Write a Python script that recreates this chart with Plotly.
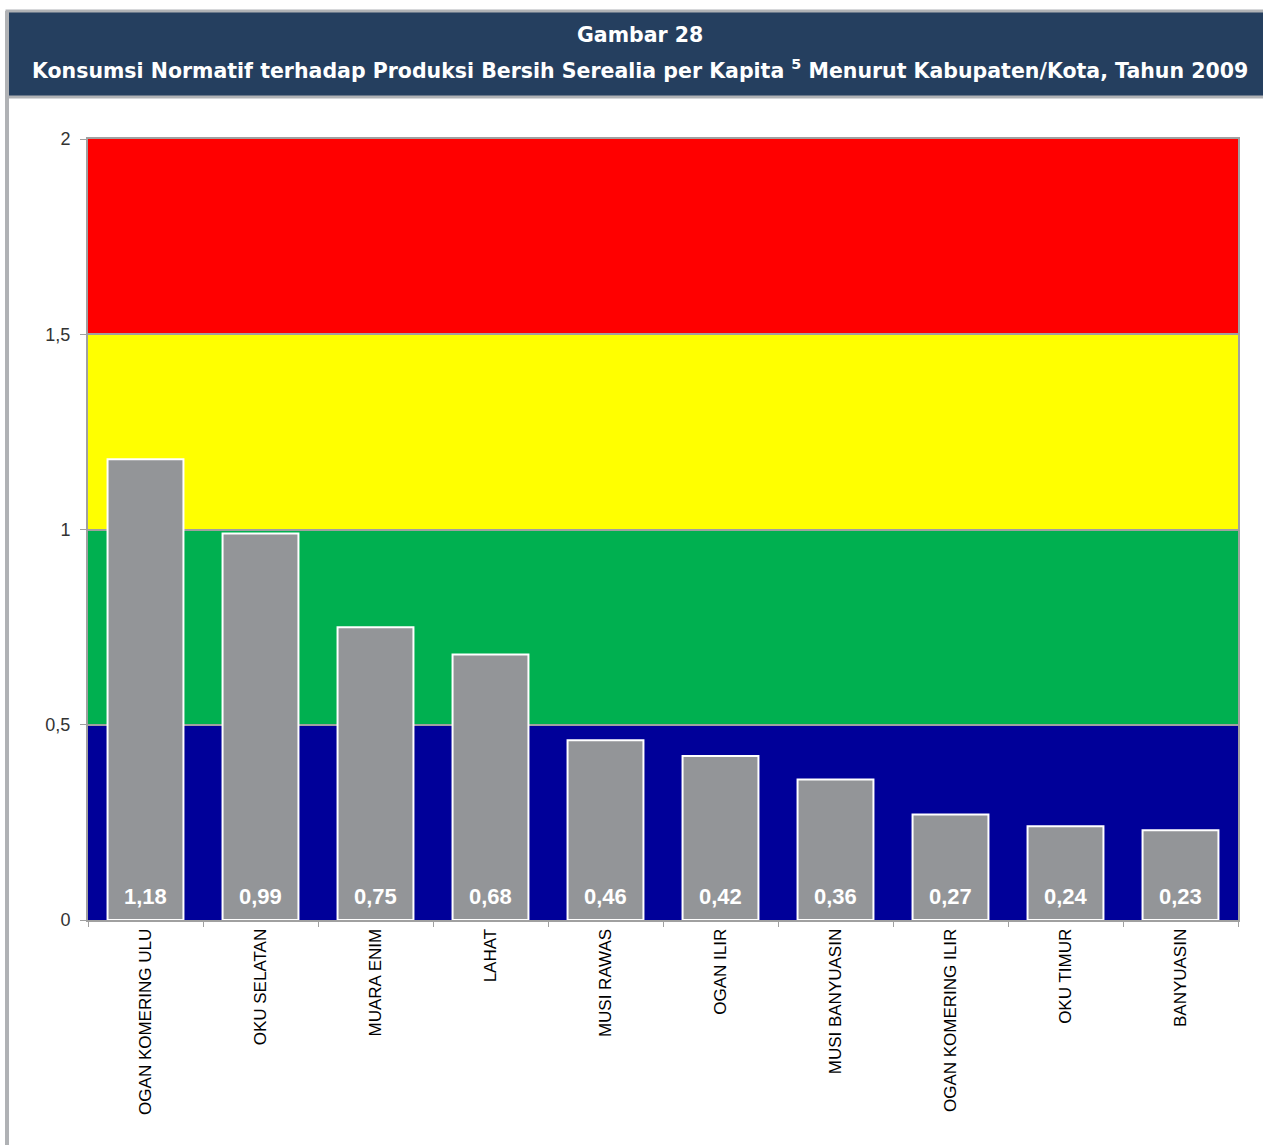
import plotly.graph_objects as go

categories = ["OGAN KOMERING ULU", "OKU SELATAN", "MUARA ENIM", "LAHAT", "MUSI RAWAS",
              "OGAN ILIR", "MUSI BANYUASIN", "OGAN KOMERING ILIR", "OKU TIMUR", "BANYUASIN"]
values = [1.18, 0.99, 0.75, 0.68, 0.46, 0.42, 0.36, 0.27, 0.24, 0.23]
band_edges = [0, 0.5, 1.0, 1.5, 2.0]
band_colors = ["#000099", "#00B050", "#FFFF00", "#FF0000"]
y_ticks = [0, 0.5, 1, 1.5, 2]

W, H = 1263, 1145
L, R, T, B = 88, 25, 139, 225
pw, ph = W - L - R, H - T - B

def px(x):
    return (x - L) / pw

def py(y):
    return (H - B - y) / ph

fig = go.Figure()
fig.add_trace(go.Bar(
    x=categories, y=values,
    marker=dict(color="#939598", line=dict(color="white", width=2)),
    width=0.66,
    hoverinfo="skip",
))

shapes = []
for i in range(len(band_colors)):
    shapes.append(dict(type="rect", xref="paper", yref="y", x0=0, x1=1,
                       y0=band_edges[i], y1=band_edges[i + 1],
                       fillcolor=band_colors[i], line=dict(width=0), layer="below"))
shapes.append(dict(type="line", xref="paper", yref="y", x0=0, x1=1, y0=2, y1=2,
                   line=dict(color="#FF0000", width=3), layer="above"))
shapes.append(dict(type="rect", xref="paper", yref="paper",
                   x0=px(7), x1=px(1266), y0=py(97), y1=py(11),
                   fillcolor="#253F5F", line=dict(color="#B0B2B5", width=3), layer="above"))
shapes.append(dict(type="rect", xref="paper", yref="paper",
                   x0=px(5), x1=px(9), y0=py(1150), y1=py(11),
                   fillcolor="#B0B2B5", line=dict(width=0), layer="above"))

annotations = [
    dict(text="<b>Gambar 28</b>", xref="paper", yref="paper", x=px(640), y=py(35),
         showarrow=False, font=dict(family="DejaVu Sans", size=20.5, color="white"),
         xanchor="center", yanchor="middle"),
    dict(text="<b>Konsumsi Normatif terhadap Produksi Bersih Serealia per Kapita <sup>5</sup> Menurut Kabupaten/Kota, Tahun 2009</b>",
         xref="paper", yref="paper", x=px(640), y=py(70),
         showarrow=False, font=dict(family="DejaVu Sans", size=20.5, color="white"),
         xanchor="center", yanchor="middle"),
]
for c, v in zip(categories, values):
    annotations.append(dict(
        text="<b>" + f"{v:.2f}".replace(".", ",") + "</b>",
        xref="x", yref="y", x=c, y=0, yanchor="bottom", yshift=9,
        showarrow=False, font=dict(family="Arial", size=22, color="white")))

fig.update_layout(
    width=W, height=H,
    margin=dict(l=L, r=R, t=T, b=B, pad=0),
    paper_bgcolor="white", plot_bgcolor="white",
    separators=",.",
    showlegend=False,
    bargap=0.34,
    shapes=shapes,
    annotations=annotations,
    xaxis=dict(
        type="category", tickson="boundaries", ticks="outside", ticklen=5,
        tickcolor="#A0A0A0", tickangle=-90,
        tickfont=dict(family="Arial", size=17, color="black"),
        showline=True, linecolor="#A0A0A0", linewidth=2, mirror=True,
        showgrid=False,
    ),
    yaxis=dict(
        range=[0, 2], tickvals=y_ticks, ticks="outside", ticklen=6,
        tickcolor="#A0A0A0", ticklabelstandoff=6,
        tickfont=dict(family="Arial", size=18, color="#333333"),
        showline=True, linecolor="#A0A0A0", linewidth=2, mirror=True,
        showgrid=True, gridcolor="#A0A0A0", gridwidth=2,
        zeroline=False,
    ),
)

fig.write_html("out.html")
